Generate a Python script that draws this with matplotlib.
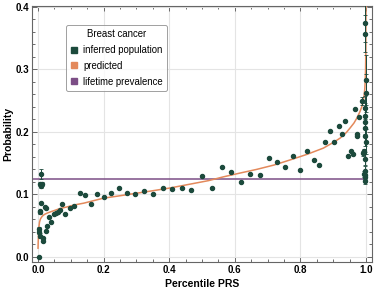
import matplotlib
matplotlib.use('Agg')
import matplotlib.pyplot as plt
from matplotlib.lines import Line2D
from matplotlib.ticker import MultipleLocator

plt.rcParams['font.family'] = ['Liberation Sans', 'DejaVu Sans']

# inferred population (percentile, probability, error)
pop_x = [0.003, 0.008, 0.006, 0.010, 0.012, 0.010, 0.006, 0.007, 0.021, 0.024,
         0.003, 0.002, 0.005, 0.016, 0.014, 0.025, 0.029, 0.034, 0.041, 0.049,
         0.056, 0.062, 0.066, 0.074, 0.084, 0.098, 0.111, 0.127, 0.142, 0.161,
         0.181, 0.200, 0.224, 0.246, 0.271, 0.296, 0.323, 0.352, 0.380, 0.410,
         0.439, 0.468, 0.499, 0.529, 0.560, 0.589, 0.619, 0.647, 0.676, 0.703,
         0.730, 0.754, 0.777, 0.799, 0.819, 0.840, 0.857, 0.874, 0.889, 0.902,
         0.916, 0.927, 0.937, 0.946, 0.953, 0.960, 0.966, 0.971, 0.973, 0.979,
         0.987, 0.992, 0.993,
         0.998, 0.998, 0.999, 0.999, 0.996, 0.997, 0.998, 0.997, 0.998, 0.999,
         0.998, 0.997, 0.996, 0.998, 0.997, 0.995]
pop_y = [0.000, 0.133, 0.116, 0.114, 0.116, 0.087, 0.072, 0.074, 0.080, 0.079,
         0.044, 0.040, 0.034, 0.031, 0.026, 0.042, 0.050, 0.064, 0.056, 0.069,
         0.071, 0.072, 0.075, 0.085, 0.069, 0.079, 0.082, 0.102, 0.099, 0.084,
         0.100, 0.096, 0.103, 0.110, 0.103, 0.101, 0.106, 0.100, 0.110, 0.109,
         0.111, 0.107, 0.130, 0.111, 0.144, 0.136, 0.119, 0.133, 0.131, 0.158,
         0.151, 0.144, 0.162, 0.139, 0.169, 0.155, 0.147, 0.184, 0.202, 0.184,
         0.210, 0.197, 0.218, 0.162, 0.169, 0.165, 0.236, 0.193, 0.196, 0.224,
         0.249, 0.166, 0.169,
         0.374, 0.357, 0.283, 0.262, 0.238, 0.226, 0.216, 0.206, 0.193, 0.184,
         0.157, 0.138, 0.131, 0.127, 0.122, 0.133]
pop_err = [0, 0.008, 0.003, 0.003, 0.003, 0, 0.003, 0, 0, 0,
           0.004, 0.004, 0.004, 0, 0, 0, 0, 0, 0, 0,
           0, 0, 0, 0, 0, 0, 0, 0, 0, 0,
           0, 0, 0, 0, 0, 0, 0, 0, 0, 0,
           0, 0, 0, 0, 0, 0, 0, 0, 0, 0,
           0, 0, 0, 0, 0, 0, 0, 0, 0, 0,
           0, 0, 0, 0, 0, 0, 0, 0, 0, 0,
           0.006, 0.004, 0.004,
           0.03, 0.03, 0.04, 0.03, 0.02, 0.02, 0.02, 0.015, 0.015, 0.02,
           0.01, 0.008, 0.006, 0.006, 0.006, 0.005]

# predicted curve
pred_x = [0.0003, 0.001, 0.002, 0.003, 0.005, 0.008, 0.013, 0.02, 0.028, 0.038,
          0.049, 0.065, 0.089, 0.11, 0.14, 0.17, 0.20, 0.24, 0.29, 0.34,
          0.40, 0.47, 0.52, 0.565, 0.615, 0.667, 0.72, 0.768, 0.82, 0.87,
          0.90, 0.921, 0.94, 0.951, 0.963, 0.972, 0.981, 0.987, 0.991, 0.994,
          0.996, 0.9975, 0.9985, 0.9992, 0.9997]
pred_y = [0.014, 0.026, 0.040, 0.048, 0.056, 0.061, 0.065, 0.068, 0.070, 0.072,
          0.074, 0.077, 0.080, 0.083, 0.086, 0.090, 0.094, 0.097, 0.101, 0.105,
          0.110, 0.117, 0.122, 0.128, 0.134, 0.140, 0.147, 0.155, 0.164, 0.174,
          0.183, 0.190, 0.199, 0.206, 0.214, 0.222, 0.232, 0.240, 0.249, 0.258,
          0.268, 0.282, 0.300, 0.330, 0.410]

prevalence = 0.125

c_pop = '#1c4a3c'
c_pred = '#e3895b'
c_prev = '#7c4e86'

fig = plt.figure(figsize=(3.74, 2.92), dpi=100)
ax = fig.add_axes([0.0856, 0.103, 0.909, 0.876])

ax.grid(True, color='#e4e4e4', linewidth=0.8, zorder=0)
ax.axhline(prevalence, color=c_prev, linewidth=1.1, zorder=2,
           xmin=0.0, xmax=(1.0 + 0.018) / 1.036)
ax.plot(pred_x, pred_y, color=c_pred, linewidth=1.1, zorder=3)
ax.errorbar(pop_x, pop_y, yerr=pop_err, fmt='o', color=c_pop, ms=2.9,
            elinewidth=0.7, capsize=1.2, capthick=0.6, zorder=4)

ax.set_xlim(-0.018, 1.018)
ax.set_ylim(-0.008, 0.401)
ax.xaxis.set_major_locator(MultipleLocator(0.2))
ax.xaxis.set_minor_locator(MultipleLocator(0.05))
ax.yaxis.set_major_locator(MultipleLocator(0.1))
ax.yaxis.set_minor_locator(MultipleLocator(0.02))
ax.tick_params(which='both', direction='in', top=True, right=True,
               labeltop=False, labelright=False, color='#555555', width=0.6)
ax.tick_params(which='major', length=3.5, labelsize=7, pad=2)
ax.tick_params(which='minor', length=2)
for lab in ax.get_xticklabels() + ax.get_yticklabels():
    lab.set_fontweight('bold')
ax.xaxis.set_major_formatter(plt.FuncFormatter(lambda v, p: '%.1f' % v))
ax.yaxis.set_major_formatter(plt.FuncFormatter(lambda v, p: '%.1f' % v))
for s in ax.spines.values():
    s.set_color('#666666')
    s.set_linewidth(0.8)

ax.set_xlabel('Percentile PRS', fontsize=7.5, fontweight='bold', labelpad=3)
ax.set_ylabel('Probability', fontsize=7.5, fontweight='bold', labelpad=2)

handles = [Line2D([], [], marker='s', color=c_pop, ls='none', ms=4.5),
           Line2D([], [], marker='s', color=c_pred, ls='none', ms=4.5),
           Line2D([], [], marker='s', color=c_prev, ls='none', ms=4.5)]
labels = ['inferred population', 'predicted', 'lifetime prevalence']
leg = ax.legend(handles, labels, title='Breast cancer', loc='upper left',
                bbox_to_anchor=(0.085, 0.945), fontsize=6.9, title_fontsize=6.9,
                frameon=True, fancybox=True, edgecolor='#888888',
                handlelength=0.8, handletextpad=0.6, labelspacing=0.6,
                borderpad=0.45)
leg.get_frame().set_linewidth(0.7)

fig.savefig('out.png', dpi=100)
